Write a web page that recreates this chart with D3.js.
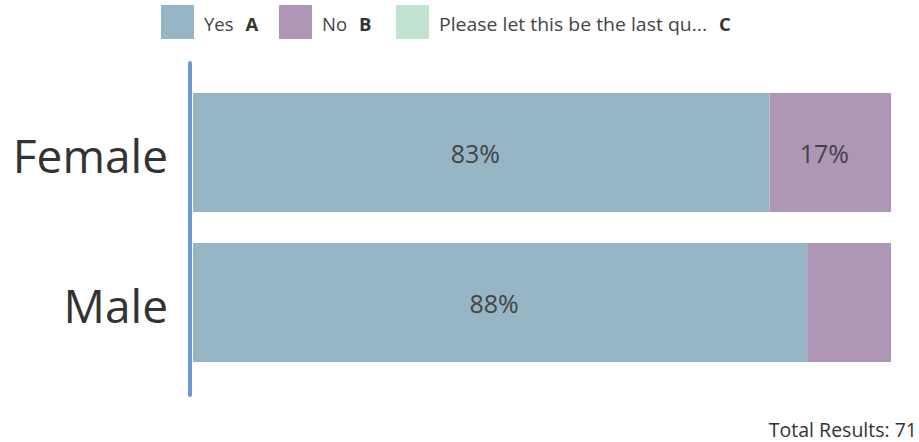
<!DOCTYPE html>
<html><head><meta charset="utf-8">
<script src="https://cdn.jsdelivr.net/npm/d3@7"></script>
<style>body{margin:0;background:#fff}svg{display:block}text{font-family:"Open Sans",Lato,sans-serif}</style>
</head><body>
<script>
const categories = ["Female", "Male"];
const seriesNames = ["Yes", "No", "Please let this be the last qu..."];
const seriesKeys = ["A", "B", "C"];
const yesValues = [82.6, 88];
const noValues = [17.4, 12];
const lastValues = [0, 0];
const colors = ["#96b6c6", "#ae96b7", "#c2e3cf"];
const totalLabel = "Total Results: 71";

const W = 919, H = 442;
const svg = d3.select("body").append("svg").attr("width", W).attr("height", H);

const series = [yesValues, noValues, lastValues];
const rows = categories.map((c, i) => {
  const r = {cat: c};
  seriesKeys.forEach((k, j) => r[k] = series[j][i]);
  return r;
});
const stacked = d3.stack().keys(seriesKeys)(rows);

const x = d3.scaleLinear().domain([0, 100]).range([193, 891]);
const y = d3.scaleBand().domain(categories).range([93, 362]).paddingInner(31 / 150).paddingOuter(0);

// bars
stacked.forEach((s, j) => {
  svg.append("g").selectAll("rect").data(s).join("rect")
    .attr("x", d => x(d[0]))
    .attr("y", d => y(d.data.cat))
    .attr("width", d => x(d[1]) - x(d[0]))
    .attr("height", y.bandwidth())
    .attr("fill", colors[j]);
  svg.append("g").selectAll("text").data(s.filter(d => x(d[1]) - x(d[0]) > 100)).join("text")
    .attr("x", d => (x(d[0]) + x(d[1])) / 2 - 6)
    .attr("y", d => y(d.data.cat) + y.bandwidth() / 2 + 10.5)
    .attr("text-anchor", "middle")
    .attr("font-size", 25).attr("fill", "#444")
    .text(d => Math.round(d[1] - d[0]) + "%");
});

// axis line
svg.append("line").attr("x1", 190).attr("x2", 190).attr("y1", 63).attr("y2", 395)
  .attr("stroke", "#6b9bcf").attr("stroke-width", 4).attr("stroke-linecap", "round");

// category labels
svg.append("g").selectAll("text").data(categories).join("text")
  .attr("x", 168).attr("y", d => y(d) + y.bandwidth() / 2 + 20.5)
  .attr("text-anchor", "end")
  .attr("font-size", 46).attr("fill", "#333").text(d => d);

// legend
const legX = [161, 279, 396];
const nameLen = [null, null, 268];
const lg = svg.append("g").selectAll("g").data(seriesNames).join("g")
  .attr("transform", (d, i) => `translate(${legX[i]},5)`);
lg.append("rect").attr("width", 33).attr("height", 34).attr("fill", (d, i) => colors[i]);
lg.each(function(d, i) {
  const g = d3.select(this);
  const t = g.append("text").attr("x", 43).attr("y", 26)
    .attr("font-size", 18.5).attr("fill", "#444").text(d);
  if (nameLen[i]) t.attr("textLength", nameLen[i]).attr("lengthAdjust", "spacingAndGlyphs");
  const w = nameLen[i] || t.node().getComputedTextLength();
  g.append("text").attr("x", 43 + w + 12).attr("y", 26)
    .attr("font-size", 18.5).attr("font-weight", "bold").attr("fill", "#333").text(seriesKeys[i]);
});

svg.append("text").attr("x", 917).attr("y", 437).attr("text-anchor", "end")
  .attr("font-size", 19.5).attr("fill", "#333").text(totalLabel);
</script>
</body></html>
